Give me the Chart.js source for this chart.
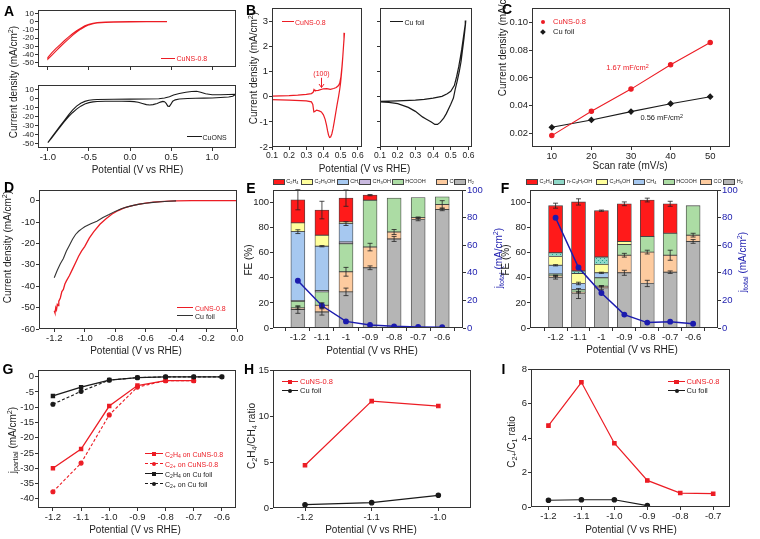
<!DOCTYPE html>
<html><head><meta charset="utf-8">
<script src="https://cdn.jsdelivr.net/npm/chart.js@4.4.1/dist/chart.umd.min.js"></script>
<style>
html,body{margin:0;padding:0;background:#fff;}
#root{position:relative;width:760px;height:539px;overflow:hidden;font-family:"Liberation Sans",Arial,sans-serif;background:#fff;}
canvas{position:absolute;}
.t{position:absolute;white-space:nowrap;line-height:1;}
.sb{font-size:72%;vertical-align:-0.28em;line-height:0;}
.sp{font-size:72%;vertical-align:0.5em;line-height:0;}
.ln{position:absolute;height:0;}
.mk{position:absolute;}
.bx{position:absolute;box-sizing:border-box;border:1px solid #444;}
</style></head><body><div id="root"></div>
<script>
// ================= DATA =================
// Panel A (CV, current density mA/cm2 vs potential V)
const A_cuns_x = [0.45,0.2,0,-0.2,-0.3,-0.4,-0.45,-0.5,-0.55,-0.6,-0.65,-0.7,-0.75,-0.8,-0.85,-0.9,-0.95,-1.0,
  -1.0,-0.95,-0.9,-0.85,-0.8,-0.75,-0.7,-0.65,-0.6,-0.55,-0.5,-0.45,-0.4,-0.3,-0.2,0,0.2,0.45];
const A_cuns_y = [0,0,-0.1,-0.3,-0.6,-1.2,-2,-3.2,-5.2,-8,-11.2,-14.8,-18.8,-23.2,-27.8,-32.5,-37.5,-43.5,
  -45.5,-40.5,-35.5,-30.5,-25.8,-21.2,-16.8,-12.8,-9.2,-6.2,-4,-2.6,-1.7,-1,-0.7,-0.5,-0.3,-0.2];
const A_cuons_x = [-1.0,-0.95,-0.9,-0.85,-0.8,-0.75,-0.7,-0.65,-0.6,-0.55,-0.5,-0.45,-0.4,-0.2,0,0.2,0.35,0.42,0.48,0.53,0.6,0.68,0.75,0.81,0.86,0.92,1.0,1.1,1.2,1.28,
  1.28,1.25,1.2,1.1,1.0,0.9,0.8,0.7,0.6,0.55,0.52,0.5,0.48,0.46,0.44,0.42,0.4,0.37,0.33,0.28,0.24,0.2,0.15,0.1,0.05,0,-0.1,-0.2,-0.3,-0.4,-0.45,-0.5,-0.55,-0.6,-0.65,-0.7,-0.75,-0.8,-0.85,-0.9,-0.95,-1.0];
const A_cuons_y = [-49,-42.5,-36.5,-30.5,-24.5,-18.5,-13,-8.5,-5.2,-3.2,-2,-1.4,-1.1,-0.9,-0.7,-0.5,-0.3,0.5,2,4,5.5,7,7.8,8,7,5.3,4.2,4.2,4.4,4.6,
  4.2,2.5,1.7,1.1,0.6,0.4,0.2,0,-0.5,-1.5,-3,-6,-8.8,-8.5,-5.5,-3.5,-3.2,-4,-5.5,-6.8,-7.2,-6.8,-5.5,-4.2,-3.5,-3.2,-3,-3,-3.1,-3.4,-3.8,-4.6,-6,-8.5,-11.8,-15.8,-20.5,-25.8,-31.5,-37.5,-43.5,-49];
const A_xticks = [-1.0,-0.5,0,0.5,1.0];
const A_yticks = [-50,-40,-30,-20,-10,0,10];

// Panel B (CV near Cu oxidation)
const B_cuns_x = [0.10,0.15,0.20,0.25,0.30,0.33,0.34,0.345,0.35,0.37,0.40,0.42,0.44,0.46,0.475,0.488,0.495,0.502,0.508,0.513,0.518,0.523,
  0.52,0.515,0.51,0.505,0.50,0.495,0.488,0.48,0.471,0.463,0.456,0.449,0.442,0.436,0.43,0.424,0.418,0.41,0.40,0.388,0.375,0.36,0.35,0.344,0.338,0.33,0.30,0.20,0.10];
const B_cuns_y = [0.03,0.04,0.05,0.07,0.10,0.13,0.18,0.29,0.25,0.26,0.32,0.33,0.30,0.33,0.37,0.45,0.55,0.8,1.2,1.6,2.1,2.55,
  2.3,1.8,1.3,0.9,0.55,0.3,0.0,-0.3,-0.67,-1.0,-1.27,-1.48,-1.6,-1.62,-1.53,-1.35,-1.13,-0.9,-0.72,-0.6,-0.56,-0.53,-0.58,-0.6,-0.3,-0.2,-0.16,-0.13,-0.11];
const B_cu_x = [0.10,0.2,0.3,0.35,0.4,0.45,0.48,0.50,0.52,0.533,0.545,0.555,0.562,0.57,0.578,0.585,
  0.582,0.575,0.567,0.558,0.548,0.537,0.525,0.515,0.50,0.475,0.46,0.44,0.425,0.41,0.39,0.36,0.34,0.30,0.26,0.2,0.15,0.10];
const B_cu_y = [-0.18,-0.16,-0.13,-0.1,-0.05,0.02,0.12,0.22,0.45,0.8,1.2,1.6,1.9,2.3,2.7,3.04,
  2.8,2.35,1.9,1.4,1.0,0.65,0.3,-0.05,-0.3,-0.67,-0.85,-1.02,-1.1,-1.1,-1.0,-0.88,-0.8,-0.58,-0.42,-0.27,-0.22,-0.2];
const B_xticks = [0.1,0.2,0.3,0.4,0.5,0.6];
const B_yticks = [-2,-1,0,1,2,3];

// Panel C (double-layer capacitance)
const C_rate = [10,20,30,40,50];
const C_cuns = [0.0185,0.036,0.052,0.0695,0.0855];
const C_cu = [0.0245,0.0298,0.0358,0.0415,0.0465];
const C_yticks = [0.02,0.04,0.06,0.08,0.10];

// Panel D (LSV)
const D_cuns_x = [-1.2,-1.195,-1.19,-1.185,-1.18,-1.175,-1.17,-1.16,-1.15,-1.14,-1.13,-1.12,-1.1,-1.08,-1.06,-1.04,-1.02,-1.0,-0.97,-0.94,-0.9,-0.86,-0.82,-0.78,-0.74,-0.7,-0.65,-0.6,-0.55,-0.5,-0.45,-0.4,-0.3,-0.2,-0.1,0];
const D_cuns_y = [-51.5,-52.5,-50,-51,-48.5,-49,-47,-45.5,-42.5,-41.5,-39,-37.5,-35,-32,-29,-26,-23.5,-21.5,-17.5,-14.5,-11,-8.4,-6.2,-4.6,-3.4,-2.5,-1.7,-1.1,-0.7,-0.4,-0.2,-0.1,0,0,0,0];
const D_cu_x = [-1.2,-1.18,-1.16,-1.14,-1.12,-1.1,-1.08,-1.06,-1.04,-1.02,-1.0,-0.96,-0.92,-0.88,-0.84,-0.8,-0.76,-0.72,-0.68,-0.64,-0.6,-0.55,-0.5,-0.45,-0.4];
const D_cu_y = [-36,-32.5,-29.5,-27,-23.5,-20.8,-18,-15.8,-14.3,-13.2,-12.2,-10.8,-9.6,-7.9,-6.5,-5,-3.8,-2.9,-2.2,-1.6,-1.2,-0.8,-0.5,-0.25,-0.1];
const D_xticks = [-1.2,-1.0,-0.8,-0.6,-0.4,-0.2,0.0];
const D_yticks = [-60,-50,-40,-30,-20,-10,0];

// Panels E/F (Faradaic efficiency, %)
const FE_pot = [-1.2,-1.1,-1.0,-0.9,-0.8,-0.7,-0.6];
const FE_labels = ['-1.2','-1.1','-1','-0.9','-0.8','-0.7','-0.6'];
const FE_yticks = [0,20,40,60,80,100];
const E_H2 = [14.7,12.8,28.8,48,71,86.5,94.5];
const E_CO = [1.3,5.3,16,16.5,5.5,1.5,4];
const E_HCOOH = [5.3,10.7,22.4,37.4,27,16,6];
const E_CH3OH = [0.5,1,1.3,0,0,0,0];
const E_CH4 = [55,35.4,14.7,0,0,0,0];
const E_C2H5OH = [7,8.8,1.3,0,0,0,0];
const E_C2H4 = [18.4,20,19,4,0,0,0];
const E_jtotal = [34.2,16.1,4.8,2.2,1.2,0.7,0.5];
const E_err_H2 = [3,2.5,3,1.5,2,1,1];
const E_err_CO = [1,2,3.5,3,2,0.5,3];
const E_err_CH4 = [1.5,0.5,1.5,0,0,0,0];
const E_err_C2H4 = [8,7,6.5,0.5,0,0,0];

const F_H2 = [40.5,27.5,32,44,35.5,44.5,69];
const F_CO = [1,1,1.3,14,25,13.5,5];
const F_HCOOH = [1.5,2,6.7,8.5,12.5,17.5,23.5];
const F_CH4 = [7,5,4,0,0,0,0];
const F_C2H5OH = [7,8,6.7,2.5,0,0,0];
const F_nC3H7OH = [3,2,5.9,0,0,0,0];
const F_C2H4 = [37.5,55,36.9,30,29,23.5,0];
const F_jtotal = [79.9,43.8,25.4,9.7,3.9,4.6,3.1];
const F_err_H2 = [1.5,4,1.5,2,2.5,1,1.5];
const F_err_CO = [0.5,0.5,0.5,1.5,1.5,4,1.5];
const F_err_CH4 = [0.5,1,0.5,0,0,0,0];
const F_err_C2H4 = [2,2.5,0.5,1.5,1.5,2,0];

// Panel G (partial current densities)
const G_pot = [-1.2,-1.1,-1.0,-0.9,-0.8,-0.7,-0.6];
const G_c2h4_cuns = [-30,-23.7,-9.6,-2.9,-1.3,-1.3];
const G_c2p_cuns = [-37.7,-28.3,-12.5,-3.4,-1.3,-1.3];
const G_c2h4_cu = [-6.3,-3.4,-1.1,-0.3,-0.05,-0.05,-0.05];
const G_c2p_cu = [-9.0,-4.8,-1.1,-0.3,-0.05,-0.05,-0.05];
const G_yticks = [-40,-35,-30,-25,-20,-15,-10,-5,0];

// Panel H (C2H4/CH4 ratio)
const H_pot = [-1.2,-1.1,-1.0];
const H_cuns = [4.65,11.62,11.08];
const H_cu = [0.36,0.58,1.38];
const H_yticks = [0,5,10,15];

// Panel I (C2+/C1 ratio)
const I_pot = [-1.2,-1.1,-1.0,-0.9,-0.8,-0.7];
const I_cuns = [4.72,7.23,3.7,1.54,0.81,0.77];
const I_cu = [0.39,0.42,0.42,0.08];
const I_yticks = [0,2,4,6,8];

// ================= RENDER =================
const FONT = '"Liberation Sans", Arial, sans-serif';
Chart.defaults.font.family = FONT;
Chart.defaults.font.size = 9.5;
Chart.defaults.color = '#222';
const RED = '#ec1c24', BLK = '#1a1a1a', BLUE = '#1c1cae', AX = '#333';
const P = 12;
const root = document.getElementById('root');

const framePlugin = {
  id: 'frame',
  afterDraw(chart) {
    const {ctx, chartArea: a} = chart;
    ctx.save(); ctx.strokeStyle = AX; ctx.lineWidth = 1;
    ctx.strokeRect(Math.round(a.left) + 0.5, Math.round(a.top) + 0.5, Math.round(a.right - a.left) - 1, Math.round(a.bottom - a.top) - 1);
    ctx.restore();
  }
};

const errPlugin = {
  id: 'errbars',
  afterDatasetsDraw(chart) {
    const {ctx} = chart;
    const ys = chart.scales.y;
    ctx.save(); ctx.strokeStyle = '#222'; ctx.lineWidth = 0.8;
    chart.data.datasets.forEach((ds, i) => {
      if (!ds.err) return;
      const meta = chart.getDatasetMeta(i);
      meta.data.forEach((el, j) => {
        const e = ds.err[j];
        if (!e || !ds.data[j] || !ds.data[j].y) return;
        const v = ys.getValueForPixel(el.y);
        const y1 = ys.getPixelForValue(v + e), y2 = ys.getPixelForValue(v - e);
        ctx.beginPath();
        ctx.moveTo(el.x, y1); ctx.lineTo(el.x, y2);
        ctx.moveTo(el.x - 2.5, y1); ctx.lineTo(el.x + 2.5, y1);
        ctx.moveTo(el.x - 2.5, y2); ctx.lineTo(el.x + 2.5, y2);
        ctx.stroke();
      });
    });
    ctx.restore();
  }
};

const pts = (xs, ys) => ys.map((y, i) => ({x: xs[i], y}));
const fmt1 = v => v.toFixed(1);
const fmt0 = v => String(Math.round(v));

function lin(min, max, ticks, fmt, o = {}) {
  return {
    type: 'linear', min, max, position: o.position || undefined,
    stacked: o.stacked || false,
    afterBuildTicks: s => { s.ticks = ticks.map(v => ({value: v})); },
    ticks: {callback: fmt, padding: 1, color: o.color || '#222', font: {size: o.size || 9.5},
      display: o.labels !== false, autoSkip: false, maxRotation: 0, minRotation: 0},
    grid: {display: true, drawOnChartArea: false, drawTicks: true, tickLength: 3, color: AX},
    border: {display: false}
  };
}

function mk(plot, ax, cfg) {
  const c = document.createElement('canvas');
  const cw = P + ax.yw + plot.w + (ax.rw || 0) + P, ch = P + plot.h + ax.xh + P;
  c.width = cw; c.height = ch;
  c.style.left = (plot.l - ax.yw - P) + 'px'; c.style.top = (plot.t - P) + 'px';
  c.style.width = cw + 'px'; c.style.height = ch + 'px';
  root.appendChild(c);
  const o = cfg.options;
  o.responsive = false; o.animation = false; o.devicePixelRatio = 1;
  o.layout = {padding: P};
  o.plugins = Object.assign({legend: {display: false}, tooltip: {enabled: false}}, o.plugins || {});
  o.scales.x.afterFit = s => { s.height = ax.xh; };
  o.scales.y.afterFit = s => { s.width = ax.yw; };
  if (o.scales.y2) o.scales.y2.afterFit = s => { s.width = ax.rw; };
  cfg.plugins = (cfg.plugins || []).concat([framePlugin]);
  return new Chart(c, cfg);
}

function ser(xs, ys, color, o = {}) {
  return Object.assign({data: pts(xs, ys), borderColor: color, backgroundColor: color, showLine: true,
    pointRadius: 0, borderWidth: 1.1, tension: 0}, o);
}

// ---- A ----
mk({l: 38, t: 10, w: 198, h: 57}, {yw: 26, xh: 4}, {type: 'scatter',
  data: {datasets: [ser(A_cuns_x, A_cuns_y, RED)]},
  options: {scales: {x: lin(-1.12, 1.29, A_xticks, fmt1, {labels: false}), y: lin(-55, 14, A_yticks, fmt0, {size: 8})}}});
mk({l: 38, t: 85, w: 198, h: 63}, {yw: 26, xh: 18}, {type: 'scatter',
  data: {datasets: [ser(A_cuons_x, A_cuons_y, BLK)]},
  options: {scales: {x: lin(-1.12, 1.29, A_xticks, fmt1), y: lin(-55, 15, A_yticks, fmt0, {size: 8})}}});

// ---- B ----
const noteB = {id: 'noteB', afterDatasetsDraw(ch) {
  const {ctx, scales: {x, y}} = ch;
  const px = Math.round(x.getPixelForValue(0.385)) + 0.5;
  ctx.save(); ctx.fillStyle = RED; ctx.strokeStyle = RED; ctx.lineWidth = 1;
  ctx.font = '7px ' + FONT; ctx.textAlign = 'center'; ctx.textBaseline = 'middle';
  ctx.fillText('(100)', px, y.getPixelForValue(0.92));
  const y1 = y.getPixelForValue(0.76), y2 = y.getPixelForValue(0.37);
  ctx.beginPath(); ctx.moveTo(px, y1); ctx.lineTo(px, y2); ctx.stroke();
  ctx.beginPath(); ctx.moveTo(px - 2.5, y2 - 3.5); ctx.lineTo(px, y2); ctx.lineTo(px + 2.5, y2 - 3.5); ctx.stroke();
  ctx.restore();
}};
mk({l: 272, t: 8, w: 90, h: 139}, {yw: 20, xh: 18}, {type: 'scatter',
  data: {datasets: [ser(B_cuns_x, B_cuns_y, RED, {borderWidth: 1.2})]},
  options: {scales: {x: lin(0.1, 0.625, B_xticks, fmt1, {size: 8.5}), y: lin(-2, 3.54, B_yticks, fmt0)}},
  plugins: [noteB]});
mk({l: 380, t: 8, w: 92, h: 139}, {yw: 4, xh: 18}, {type: 'scatter',
  data: {datasets: [ser(B_cu_x, B_cu_y, BLK, {borderWidth: 1.2})]},
  options: {scales: {x: lin(0.1, 0.62, B_xticks, fmt1, {size: 8.5}), y: lin(-2, 3.54, B_yticks, fmt0, {labels: false})}}});

// ---- C ----
mk({l: 532, t: 8, w: 198, h: 139}, {yw: 26, xh: 18}, {type: 'scatter',
  data: {datasets: [
    ser(C_rate, C_cuns, RED, {pointRadius: 2.2, pointStyle: 'circle', borderWidth: 1.1}),
    ser(C_rate, C_cu, BLK, {pointRadius: 2.6, pointStyle: 'rectRot', borderWidth: 1.1})]},
  options: {scales: {x: lin(5, 55, C_rate, fmt0), y: lin(0.0103, 0.1104, C_yticks, v => v.toFixed(2))}}});

// ---- D ----
mk({l: 39, t: 190, w: 198, h: 139}, {yw: 26, xh: 18}, {type: 'scatter',
  data: {datasets: [
    ser(D_cu_x, D_cu_y, '#333', {borderWidth: 1.1}),
    ser(D_cuns_x, D_cuns_y, RED, {borderWidth: 1.3})]},
  options: {scales: {x: lin(-1.3, 0, D_xticks, fmt1), y: lin(-60, 5, D_yticks, fmt0)}}});

// ---- E / F ----
const COL = {H2: '#b5b5b5', CO: '#fdcb9f', HCOOH: '#acdca4', CH3OH: '#c9b9df', CH4: '#a6c8f0', C2H5OH: '#ffff9c', C2H4: '#ff1a1a'};
function tealPattern() {
  const c = document.createElement('canvas'); c.width = 4; c.height = 4;
  const g = c.getContext('2d'); g.fillStyle = '#8fd8c8'; g.fillRect(0, 0, 4, 4);
  g.fillStyle = '#2a9d8f'; g.fillRect(0, 0, 1, 1); g.fillRect(2, 2, 1, 1);
  return g.createPattern(c, 'repeat');
}
function bar(vals, color, err) {
  return {type: 'bar', data: pts(FE_pot, vals), backgroundColor: color, borderColor: '#444', borderWidth: 0.8,
    borderSkipped: false, barThickness: 14, yAxisID: 'y', order: 1, err: err};
}
function jline(vals) {
  return {type: 'line', data: pts(FE_pot, vals), borderColor: BLUE, backgroundColor: BLUE, borderWidth: 1.5,
    pointRadius: 2.2, pointBackgroundColor: BLUE, yAxisID: 'y2', order: 0};
}
function feScales(xmin, xmax) {
  return {
    x: lin(xmin, xmax, FE_pot, (v, i) => FE_labels[i], {stacked: true}),
    y: lin(0, 110, FE_yticks, fmt0, {stacked: true}),
    y2: lin(0, 100, FE_yticks, fmt0, {position: 'right', color: BLUE})
  };
}
mk({l: 273, t: 190, w: 190, h: 138}, {yw: 26, xh: 18, rw: 22}, {type: 'bar',
  data: {datasets: [
    bar(E_H2, COL.H2, E_err_H2), bar(E_CO, COL.CO, E_err_CO), bar(E_HCOOH, COL.HCOOH), bar(E_CH3OH, COL.CH3OH),
    bar(E_CH4, COL.CH4, E_err_CH4), bar(E_C2H5OH, COL.C2H5OH), bar(E_C2H4, COL.C2H4, E_err_C2H4), jline(E_jtotal)]},
  options: {scales: feScales(-1.247, -0.57)}, plugins: [errPlugin]});
mk({l: 530, t: 190, w: 188, h: 138}, {yw: 26, xh: 18, rw: 22}, {type: 'bar',
  data: {datasets: [
    bar(F_H2, COL.H2, F_err_H2), bar(F_CO, COL.CO, F_err_CO), bar(F_HCOOH, COL.HCOOH), bar(F_CH4, COL.CH4, F_err_CH4),
    bar(F_C2H5OH, COL.C2H5OH), bar(F_nC3H7OH, tealPattern()), bar(F_C2H4, COL.C2H4, F_err_C2H4), jline(F_jtotal)]},
  options: {scales: feScales(-1.253, -0.55)}, plugins: [errPlugin]});

// ---- G ----
mk({l: 38, t: 370, w: 198, h: 138}, {yw: 26, xh: 18}, {type: 'scatter',
  data: {datasets: [
    ser(G_pot, G_c2h4_cu, BLK, {pointRadius: 2.2, pointStyle: 'rect', borderWidth: 1.3}),
    ser(G_pot, G_c2p_cu, BLK, {pointRadius: 2, pointStyle: 'circle', borderWidth: 1.1, borderDash: [3, 2]}),
    ser(G_pot, G_c2h4_cuns, RED, {pointRadius: 2.2, pointStyle: 'rect', borderWidth: 1.3}),
    ser(G_pot, G_c2p_cuns, RED, {pointRadius: 2, pointStyle: 'circle', borderWidth: 1.1, borderDash: [3, 2]})]},
  options: {scales: {x: lin(-1.253, -0.55, G_pot, fmt1), y: lin(-43, 2.2, G_yticks, fmt0)}}});

// ---- H ----
mk({l: 273, t: 370, w: 198, h: 138}, {yw: 26, xh: 18}, {type: 'scatter',
  data: {datasets: [
    ser(H_pot, H_cuns, RED, {pointRadius: 2.4, pointStyle: 'rect', borderWidth: 1.2}),
    ser(H_pot, H_cu, BLK, {pointRadius: 2.2, pointStyle: 'circle', borderWidth: 1.2})]},
  options: {scales: {x: lin(-1.248, -0.951, H_pot, fmt1), y: lin(0, 15, H_yticks, fmt0)}}});

// ---- I ----
mk({l: 531, t: 369, w: 199, h: 138}, {yw: 26, xh: 18}, {type: 'scatter',
  data: {datasets: [
    ser(I_pot, I_cuns, RED, {pointRadius: 2.4, pointStyle: 'rect', borderWidth: 1.2}),
    ser(I_pot, I_cu, BLK, {pointRadius: 2.2, pointStyle: 'circle', borderWidth: 1.2})]},
  options: {scales: {x: lin(-1.253, -0.649, I_pot, fmt1), y: lin(0, 8, I_yticks, fmt0)}}});

// ================= TEXT / LEGENDS (HTML) =================
function txt(html, x, y, o = {}) {
  const d = document.createElement('div'); d.className = 't'; d.innerHTML = html;
  const s = d.style; s.left = x + 'px'; s.top = y + 'px'; s.fontSize = (o.size || 10) + 'px'; s.color = o.color || '#222';
  if (o.bold) s.fontWeight = 'bold';
  s.transform = 'translate(' + (o.anchor === 'l' ? '0' : '-50%') + ',-50%)' + (o.rot ? ' rotate(' + o.rot + 'deg)' : '');
  root.appendChild(d); return d;
}
function hline(x1, x2, y, color, dash, w) {
  w = w || 1.2;
  const d = document.createElement('div'); d.className = 'ln';
  d.style.cssText = 'left:' + x1 + 'px;top:' + (y - w / 2) + 'px;width:' + (x2 - x1) + 'px;border-top:' + w + 'px ' + (dash ? 'dashed' : 'solid') + ' ' + color + ';';
  root.appendChild(d);
}
function mark(x, y, shape, color, r) {
  r = r || 2;
  const d = document.createElement('div'); d.className = 'mk';
  let css = 'left:' + (x - r) + 'px;top:' + (y - r) + 'px;width:' + (2 * r) + 'px;height:' + (2 * r) + 'px;background:' + color + ';';
  if (shape === 'ci') css += 'border-radius:50%;';
  if (shape === 'dm') css += 'transform:rotate(45deg);';
  d.style.cssText = css; root.appendChild(d);
}
function fbox(x, y, fill) {
  const d = document.createElement('div'); d.className = 'bx';
  d.style.cssText = 'left:' + x + 'px;top:' + (y - 2.5) + 'px;width:12px;height:5.5px;background:' + fill + ';';
  root.appendChild(d);
}
const sb = s => '<span class="sb">' + s + '</span>';
const sp = s => '<span class="sp">' + s + '</span>';
const CD = 'Current density (mA/cm' + sp('2') + ')';
const POT = 'Potential (V vs RHE)';

// panel letters
[['A', 9, 11], ['B', 251, 10], ['C', 507, 8.5], ['D', 9, 187], ['E', 251, 188], ['F', 505, 188], ['G', 8, 369], ['H', 249, 369], ['I', 503.5, 369]]
  .forEach(l => txt(l[0], l[1], l[2], {size: 14, bold: true, color: '#000'}));

// axis titles
txt(CD, 14, 82, {rot: -90});
txt(CD, 254, 68, {rot: -90});
txt(CD, 503, 40, {rot: -90});
txt(CD, 8, 247, {rot: -90});
txt('FE (%)', 249, 260, {rot: -90});
txt('j' + sb('total') + ' (mA/cm' + sp('2') + ')', 499, 258, {rot: -90, color: BLUE});
txt('FE (%)', 506, 260, {rot: -90});
txt('j' + sb('total') + ' (mA/cm' + sp('2') + ')', 743, 262, {rot: -90, color: BLUE});
txt('j' + sb('partial') + ' (mA/cm' + sp('2') + ')', 12.5, 440, {rot: -90});
txt('C' + sb('2') + 'H' + sb('4') + '/CH' + sb('4') + ' ratio', 252, 436, {rot: -90});
txt('C' + sb('2+') + '/C' + sb('1') + ' ratio', 512, 442, {rot: -90});

txt(POT, 137.5, 170);
txt(POT, 364.5, 169);
txt('Scan rate (mV/s)', 630, 166);
txt(POT, 136, 351);
txt(POT, 372, 351);
txt(POT, 632, 350);
txt(POT, 135, 530);
txt(POT, 371, 530);
txt(POT, 631, 530);

// legends A
hline(161, 175, 58.3, RED); txt('CuNS-0.8', 176.5, 58.3, {size: 7, color: RED, anchor: 'l'});
hline(187, 201.5, 137, BLK); txt('CuONS', 202.5, 137, {size: 7, color: '#222', anchor: 'l'});
// legends B
hline(282, 293.5, 21.7, RED); txt('CuNS-0.8', 295, 21.7, {size: 7, color: RED, anchor: 'l'});
hline(390, 403, 21.7, BLK); txt('Cu foil', 404.5, 21.7, {size: 7, color: '#222', anchor: 'l'});
// legends C
mark(543.3, 22.3, 'ci', RED, 2.2); txt('CuNS-0.8', 553, 22.3, {size: 7.5, color: RED, anchor: 'l'});
mark(543.3, 31.7, 'dm', BLK, 1.9); txt('Cu foil', 553, 31.7, {size: 7.5, color: '#222', anchor: 'l'});
txt('1.67 mF/cm' + sp('2'), 627.5, 68.3, {size: 7.5, color: RED});
txt('0.56 mF/cm' + sp('2'), 661.7, 118.3, {size: 7.5, color: '#222'});
// legends D
hline(177, 193, 307.7, RED, false, 1.4); txt('CuNS-0.8', 195, 307.7, {size: 7, color: RED, anchor: 'l'});
hline(177, 193, 315.7, '#333', false, 1.4); txt('Cu foil', 195, 315.7, {size: 7, color: '#222', anchor: 'l'});
// legends E/F
const E_leg = [[272.7, COL.C2H4, 'C' + sb('2') + 'H' + sb('4')], [301, COL.C2H5OH, 'C' + sb('2') + 'H' + sb('5') + 'OH'],
  [336.7, COL.CH4, 'CH' + sb('4')], [359, COL.CH3OH, 'CH' + sb('3') + 'OH'], [391.7, COL.HCOOH, 'HCOOH'],
  [436, COL.CO, 'CO'], [454.3, COL.H2, 'H' + sb('2')]];
E_leg.forEach(l => { fbox(l[0], 181.8, l[1]); txt(l[2], l[0] + 13.5, 181.8, {size: 5.5, anchor: 'l'}); });
const F_leg = [[526, COL.C2H4, 'C' + sb('2') + 'H' + sb('4')], [553.3, '#8fd8c8', 'n-C' + sb('3') + 'H' + sb('7') + 'OH'],
  [596, COL.C2H5OH, 'C' + sb('2') + 'H' + sb('5') + 'OH'], [632.7, COL.CH4, 'CH' + sb('4')], [662.7, COL.HCOOH, 'HCOOH'],
  [700, COL.CO, 'CO'], [723.3, COL.H2, 'H' + sb('2')]];
F_leg.forEach(l => { fbox(l[0], 181.8, l[1]); txt(l[2], l[0] + 13.5, 181.8, {size: 5.5, anchor: 'l'}); });
// legends G
const G_leg = [[454, RED, false, 'sq', 'C' + sb('2') + 'H' + sb('4') + ' on CuNS-0.8'], [464, RED, true, 'ci', 'C' + sb('2+') + ' on CuNS-0.8'],
  [474, BLK, false, 'sq', 'C' + sb('2') + 'H' + sb('4') + ' on Cu foil'], [484, BLK, true, 'ci', 'C' + sb('2+') + ' on Cu foil']];
G_leg.forEach(l => { hline(145, 163, l[0], l[1], l[2], 1.1); mark(154, l[0], l[3], l[1], 2); txt(l[4], 165, l[0], {size: 7, color: l[1] === RED ? RED : '#222', anchor: 'l'}); });
// legends H / I
hline(282, 298, 381.7, RED); mark(290, 381.7, 'sq', RED, 2.2); txt('CuNS-0.8', 300, 381.7, {size: 7.5, color: RED, anchor: 'l'});
hline(282, 298, 391, BLK); mark(290, 391, 'ci', BLK, 2); txt('Cu foil', 300, 391, {size: 7.5, color: '#222', anchor: 'l'});
hline(668, 685, 381.7, RED); mark(676.5, 381.7, 'sq', RED, 2.2); txt('CuNS-0.8', 686.5, 381.7, {size: 7.5, color: RED, anchor: 'l'});
hline(668, 685, 390.7, BLK); mark(676.5, 390.7, 'ci', BLK, 2); txt('Cu foil', 686.5, 390.7, {size: 7.5, color: '#222', anchor: 'l'});
</script></body></html>
